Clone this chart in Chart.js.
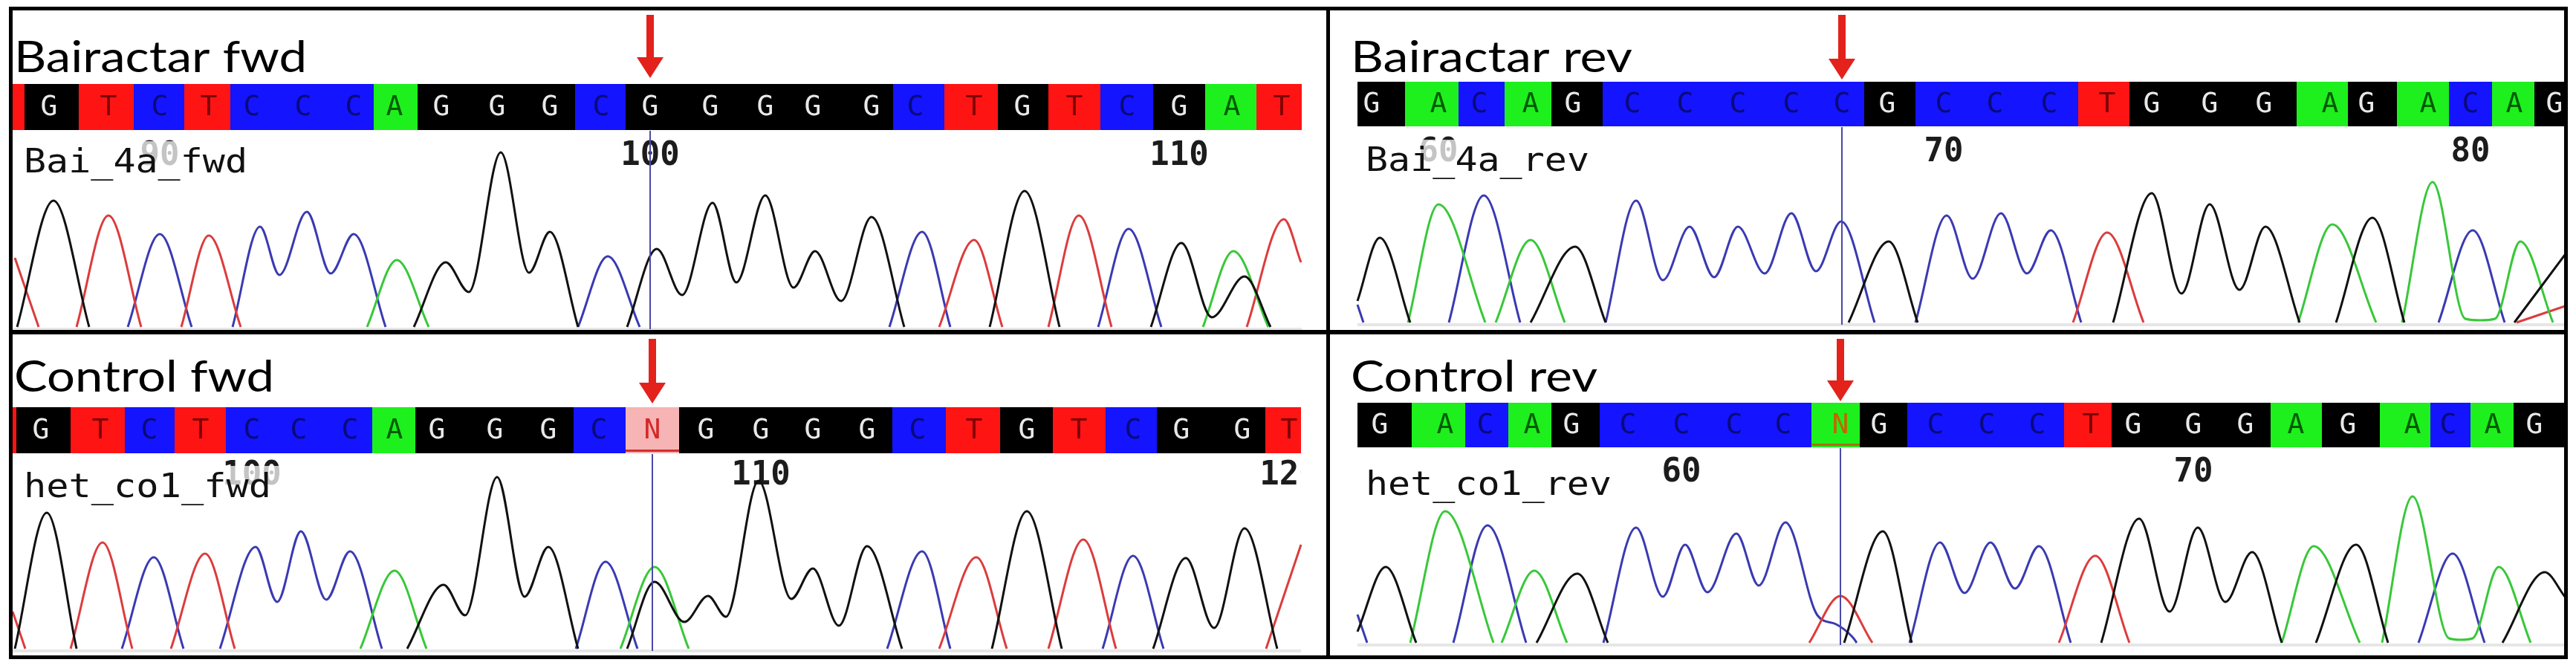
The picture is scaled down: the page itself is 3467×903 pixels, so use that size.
<!DOCTYPE html>
<html>
<head>
<meta charset="utf-8">
<script src="https://cdn.jsdelivr.net/npm/chart.js"></script>
<style>
  body { margin: 0; background: #fff; width: 3467px; height: 903px; position: relative; overflow: hidden; }
  canvas { position: absolute; }
  .line { position: absolute; background: #000; }
  .frame { position: absolute; left: 12px; top: 9px; width: 3444px; height: 878px; border: 5px solid #000; box-sizing: border-box; }
</style>
</head>
<body>

<canvas id="tl" width="1768" height="430" style="left:17px;top:14px"></canvas>
<canvas id="tr" width="1661" height="430" style="left:1790px;top:14px"></canvas>
<canvas id="bl" width="1768" height="432" style="left:17px;top:450px"></canvas>
<canvas id="br" width="1661" height="432" style="left:1790px;top:450px"></canvas>
<div class="frame"></div>
<div class="line" style="left:1785px;top:9px;width:5px;height:878px"></div>
<div class="line" style="left:12px;top:444px;width:3444px;height:6px"></div>

<script>
// panel titles and read names
const titles = ['Bairactar fwd', 'Bairactar rev', 'Control fwd', 'Control rev'];
const readNames = ['Bai_4a_fwd', 'Bai_4a_rev', 'het_co1_fwd', 'het_co1_rev'];

// base calls, peak scan positions, number of first base, marked base
const tlCalls = 'TGTCTCCCAGGGCGGGGGCTGTCGAT'.split('');
const tlPeaks = [0, 66, 146, 215, 281, 339, 408, 476, 531, 594, 669, 740, 809, 875, 956, 1030, 1094, 1173, 1232, 1311, 1376, 1446, 1517, 1587, 1658, 1725];
const trCalls = 'GACAGCCCCCGCCCTGGGAGACAG'.split('');
const trPeaks = [1846, 1936, 1991, 2060, 2117, 2197, 2268, 2339, 2411, 2479, 2540, 2616, 2685, 2758, 2836, 2896, 2974, 3047, 3136, 3185, 3268, 3325, 3384, 3438];
const blCalls = 'TGTCTCCCAGGGCNGGGGCTGTCGGT'.split('');
const blPeaks = [-10, 55, 135, 201, 270, 339, 402, 471, 531, 588, 666, 738, 806, 878, 950, 1024, 1094, 1167, 1235, 1311, 1382, 1452, 1525, 1590, 1672, 1735];
const brCalls = 'GACAGCCCCNGCCCTGGGAGACAG'.split('');
const brPeaks = [1857, 1945, 1999, 2062, 2115, 2191, 2263, 2334, 2400, 2477, 2529, 2605, 2674, 2742, 2814, 2871, 2952, 3022, 3090, 3160, 3247, 3295, 3355, 3411];
const firstNumbers = [87, 59, 95, 54];
const markedBases = [100, 68, 108, 63];

// chromatogram traces: [scan, signal], null = gap
const tlA = [[494,0],[534,90],[577,0], null, [1619,0],[1660,102],[1707,0]];
const tlC = [[172,0],[215,125],[258,0], null, [313,0],[350,135],[376,70],[413,155],[445,72],[476,125],[519,0], null, [778,0],[818,95],[861,0], null, [1197,0],[1241,128],[1279,0], null, [1478,0],[1519,132],[1563,0]];
const tlG = [[23,0],[72,170],[120,0], null, [557,0],[600,87],[631,47],[674,235],[712,73],[740,128],[778,0], null, [844,0],[884,105],[918,43],[959,167],[991,60],[1030,177],[1068,53],[1097,102],[1132,35],[1173,148],[1217,0], null, [1332,0],[1379,183],[1426,0], null, [1549,0],[1590,113],[1631,13],[1675,68],[1710,0]];
const tlT = [[20,93],[52,0], null, [103,0],[146,150],[190,0], null, [244,0],[281,123],[324,0], null, [1264,0],[1311,117],[1349,0], null, [1411,0],[1452,150],[1496,0], null, [1678,0],[1728,145],[1751,87]];

const trA = [[1895,0],[1936,159],[1999,0], null, [2013,0],[2060,111],[2106,0], null, [3093,0],[3139,132],[3198,0], null, [3233,0],[3274,189],[3318,5],[3338,3],[3358,5],[3392,109],[3436,0]];
const trC = [[1827,24],[1835,0], null, [1950,0],[1997,171],[2046,0], null, [2161,0],[2202,164],[2238,57],[2274,129],[2307,61],[2339,129],[2375,66],[2411,147],[2444,69],[2478,136],[2523,0], null, [2578,0],[2620,144],[2655,59],[2693,147],[2728,66],[2760,124],[2801,0], null, [3282,0],[3328,124],[3371,0]];
const trG = [[1827,29],[1857,114],[1898,0], null, [2060,0],[2120,102],[2161,0], null, [2488,0],[2542,109],[2581,0], null, [2844,0],[2896,174],[2936,39],[2974,159],[3014,44],[3049,129],[3095,0], null, [3144,0],[3193,141],[3236,0], null, [3384,0],[3452,91]];
const trT = [[2790,0],[2836,121],[2885,0], null, [3387,0],[3452,22]];

const blA = [[485,0],[531,105],[574,0], null, [835,0],[881,110],[927,0]];
const blC = [[164,0],[207,123],[247,0], null, [296,0],[344,137],[373,63],[405,158],[439,66],[471,131],[514,0], null, [775,0],[815,117],[858,0], null, [1194,0],[1241,131],[1279,0], null, [1484,0],[1525,125],[1566,0]];
const blG = [[20,0],[63,183],[103,0], null, [548,0],[597,86],[626,45],[669,231],[706,70],[738,137],[778,0], null, [844,0],[881,90],[921,36],[953,71],[977,43],[1021,226],[1065,67],[1094,108],[1129,31],[1167,138],[1214,0], null, [1335,0],[1382,185],[1429,0], null, [1552,0],[1596,122],[1634,28],[1675,162],[1719,0]];
const blT = [[17,50],[34,0], null, [95,0],[138,143],[178,0], null, [230,0],[276,128],[316,0], null, [1264,0],[1314,123],[1355,0], null, [1411,0],[1458,147],[1502,0], null, [1704,0],[1751,140]];

const brA = [[1898,0],[1945,177],[2010,0], null, [2021,0],[2065,97],[2109,0], null, [3071,0],[3114,130],[3176,0], null, [3206,0],[3247,197],[3296,6],[3312,4],[3328,6],[3363,102],[3406,0]];
const brC = [[1827,38],[1840,0], null, [1956,0],[2002,158],[2054,0], null, [2158,0],[2202,155],[2238,62],[2268,132],[2298,68],[2337,147],[2367,77],[2403,162],[2446,37],[2471,25],[2493,8],[2499,0], null, [2570,0],[2611,135],[2644,67],[2679,135],[2712,73],[2744,130],[2787,0], null, [3255,0],[3301,120],[3344,0]];
const brG = [[1827,15],[1865,102],[1906,0], null, [2068,0],[2123,93],[2164,0], null, [2482,0],[2534,150],[2573,0], null, [2828,0],[2879,167],[2920,42],[2958,155],[2995,55],[3031,122],[3071,0], null, [3117,0],[3171,132],[3214,0], null, [3368,0],[3425,95],[3452,62]];
const brT = [[2435,0],[2477,63],[2520,0], null, [2771,0],[2820,117],[2866,0]];

// colours
const cellFill = { A: '#1ef01e', C: '#1414ff', G: '#000000', T: '#ff1414' };
const cellInk = { A: '#005c00', C: '#0a0a7a', G: '#e8e8e8', T: '#7c0000' };
const traceColor = { A: '#38c838', C: '#3a3ab2', G: '#111111', T: '#dc3c3c' };

// layout (full-image pixels)
const layout = {
  tl: { left: 17, right: 1785, top: 14, height: 430, base: 440, view: [17, 1752], bar: [113, 175], titleAt: [19, 97, 394], nameAt: [32, 232, 301], numY: 222, arrow: [20, 105], nStyle: null },
  tr: { left: 1790, right: 3451, top: 14, height: 430, base: 434, view: [1827, 3452], bar: [110, 170], titleAt: [1818, 97, 379], nameAt: [1838, 230, 301], numY: 217, arrow: [20, 107], nStyle: null },
  bl: { left: 17, right: 1785, top: 450, height: 432, base: 873, view: [17, 1751], bar: [548, 610], titleAt: [19, 527, 350], nameAt: [32, 669, 333], numY: 652, arrow: [456, 543], nStyle: { fill: '#f6b4b4', ink: '#d42828', line: '#d03030' } },
  br: { left: 1790, right: 3451, top: 450, height: 432, base: 865, view: [1827, 3452], bar: [542, 602], titleAt: [1818, 527, 332], nameAt: [1838, 666, 331], numY: 648, arrow: [456, 540], nStyle: { fill: '#1ef01e', ink: '#c46400', line: '#b06a10' } }
};

const panels = {
  tl: { calls: tlCalls, peaks: tlPeaks, first: firstNumbers[0], mark: markedBases[0], title: titles[0], name: readNames[0], traces: { A: tlA, C: tlC, G: tlG, T: tlT } },
  tr: { calls: trCalls, peaks: trPeaks, first: firstNumbers[1], mark: markedBases[1], title: titles[1], name: readNames[1], traces: { A: trA, C: trC, G: trG, T: trT } },
  bl: { calls: blCalls, peaks: blPeaks, first: firstNumbers[2], mark: markedBases[2], title: titles[2], name: readNames[2], traces: { A: blA, C: blC, G: blG, T: blT } },
  br: { calls: brCalls, peaks: brPeaks, first: firstNumbers[3], mark: markedBases[3], title: titles[3], name: readNames[3], traces: { A: brA, C: brC, G: brG, T: brT } }
};

function fitText(ctx, text, x, y, w, font, color) {
  ctx.save();
  ctx.font = font;
  ctx.fillStyle = color;
  ctx.textAlign = 'left';
  ctx.textBaseline = 'alphabetic';
  const k = w / ctx.measureText(text).width;
  ctx.translate(x, y);
  ctx.scale(k, 1);
  ctx.fillText(text, 0, 0);
  ctx.restore();
}

const track = {
  id: 'track',
  beforeDatasetsDraw(chart) {
    const id = chart.canvas.id, P = panels[id], L = layout[id];
    const ctx = chart.ctx, xs = chart.scales.x;
    const px = v => xs.getPixelForValue(v);
    const py = v => v - L.top;
    const n = P.calls.length;

    fitText(ctx, P.title, px(L.titleAt[0]), py(L.titleAt[1]), L.titleAt[2], '59px Lato', '#000');

    ctx.save();
    const v0 = px(L.view[0]), v1 = px(L.view[1]);
    ctx.beginPath();
    ctx.rect(v0, 0, v1 - v0, chart.height);
    ctx.clip();

    // faint frame of the trace view
    ctx.fillStyle = '#e6e6e6';
    ctx.fillRect(v0, py(L.base + 1), v1 - v0, 4);
    ctx.fillRect(v0 - 3, py(L.bar[1]), 3, L.base - L.bar[1]);

    // base call cells
    const y0 = py(L.bar[0]), h = L.bar[1] - L.bar[0];
    for (let i = 0; i < n; i++) {
      const a = i === 0 ? L.view[0] : (P.peaks[i - 1] + P.peaks[i]) / 2;
      const b = i === n - 1 ? L.view[1] : (P.peaks[i] + P.peaks[i + 1]) / 2;
      const c = P.calls[i];
      const fill = c === 'N' ? L.nStyle.fill : cellFill[c];
      ctx.fillStyle = fill;
      ctx.fillRect(Math.floor(px(a)), y0, Math.ceil(px(b)) - Math.floor(px(a)), h);
      if (c === 'N') {
        ctx.fillStyle = L.nStyle.line;
        ctx.fillRect(px(a), y0 + h - 5, px(b) - px(a), 3);
      }
    }
    ctx.font = '38px "DejaVu Sans Mono"';
    ctx.textAlign = 'center';
    ctx.textBaseline = 'middle';
    for (let i = 0; i < n; i++) {
      const c = P.calls[i];
      ctx.fillStyle = c === 'N' ? L.nStyle.ink : cellInk[c];
      ctx.fillText(c, px(P.peaks[i]), y0 + h / 2 + 1);
    }

    // position numbers
    ctx.font = 'bold 44px "DejaVu Sans Mono"';
    ctx.textBaseline = 'alphabetic';
    ctx.fillStyle = '#1c1c1c';
    for (let i = 0; i < n; i++) {
      const num = P.first + i;
      if (num % 10 === 0) ctx.fillText(String(num), px(P.peaks[i]), py(L.numY));
    }

    // read name on a veil
    const nx = px(L.nameAt[0]), ny = py(L.nameAt[1]);
    ctx.fillStyle = 'rgba(255,255,255,0.74)';
    ctx.fillRect(nx - 4, ny - 42, L.nameAt[2] + 26, 58);
    ctx.restore();
    fitText(ctx, P.name, nx, ny, L.nameAt[2], '45px "DejaVu Sans Mono"', '#111');
  },
  afterDatasetsDraw(chart) {
    const id = chart.canvas.id, P = panels[id], L = layout[id];
    const ctx = chart.ctx, xs = chart.scales.x;
    const py = v => v - L.top;
    const x = xs.getPixelForValue(P.peaks[P.mark - P.first]);
    ctx.save();
    ctx.strokeStyle = '#4a4aa8';
    ctx.lineWidth = 2;
    ctx.beginPath();
    ctx.moveTo(x, py(L.bar[1]) + 1);
    ctx.lineTo(x, py(L.base + 3));
    ctx.stroke();
    // red arrow
    const t = py(L.arrow[0]), tip = py(L.arrow[1]);
    ctx.fillStyle = '#e3221c';
    ctx.fillRect(x - 5, t, 10, tip - 26 - t);
    ctx.beginPath();
    ctx.moveTo(x - 18, tip - 28);
    ctx.lineTo(x + 18, tip - 28);
    ctx.lineTo(x, tip);
    ctx.closePath();
    ctx.fill();
    ctx.restore();
  }
};

function toPoints(arr) {
  return arr.map((p, i) => p ? { x: p[0], y: p[1] } : { x: arr[i - 1][0] + 0.5, y: null });
}

Object.keys(panels).forEach(id => {
  const P = panels[id], L = layout[id];
  new Chart(document.getElementById(id), {
    type: 'line',
    data: {
      datasets: ['G', 'A', 'T', 'C'].map(b => ({
        label: b,
        data: toPoints(P.traces[b]),
        borderColor: traceColor[b],
        borderWidth: 3,
        pointRadius: 0,
        fill: false,
        spanGaps: false,
        cubicInterpolationMode: 'monotone'
      }))
    },
    options: {
      responsive: false,
      animation: false,
      events: [],
      layout: { padding: 0 },
      scales: {
        x: { type: 'linear', min: L.left, max: L.right, bounds: 'data', display: false },
        y: { type: 'linear', min: L.base - (L.top + L.height), max: L.base - L.top, bounds: 'data', display: false }
      },
      plugins: { legend: { display: false }, tooltip: { enabled: false } }
    },
    plugins: [track]
  });
});
</script>
</body>
</html>
